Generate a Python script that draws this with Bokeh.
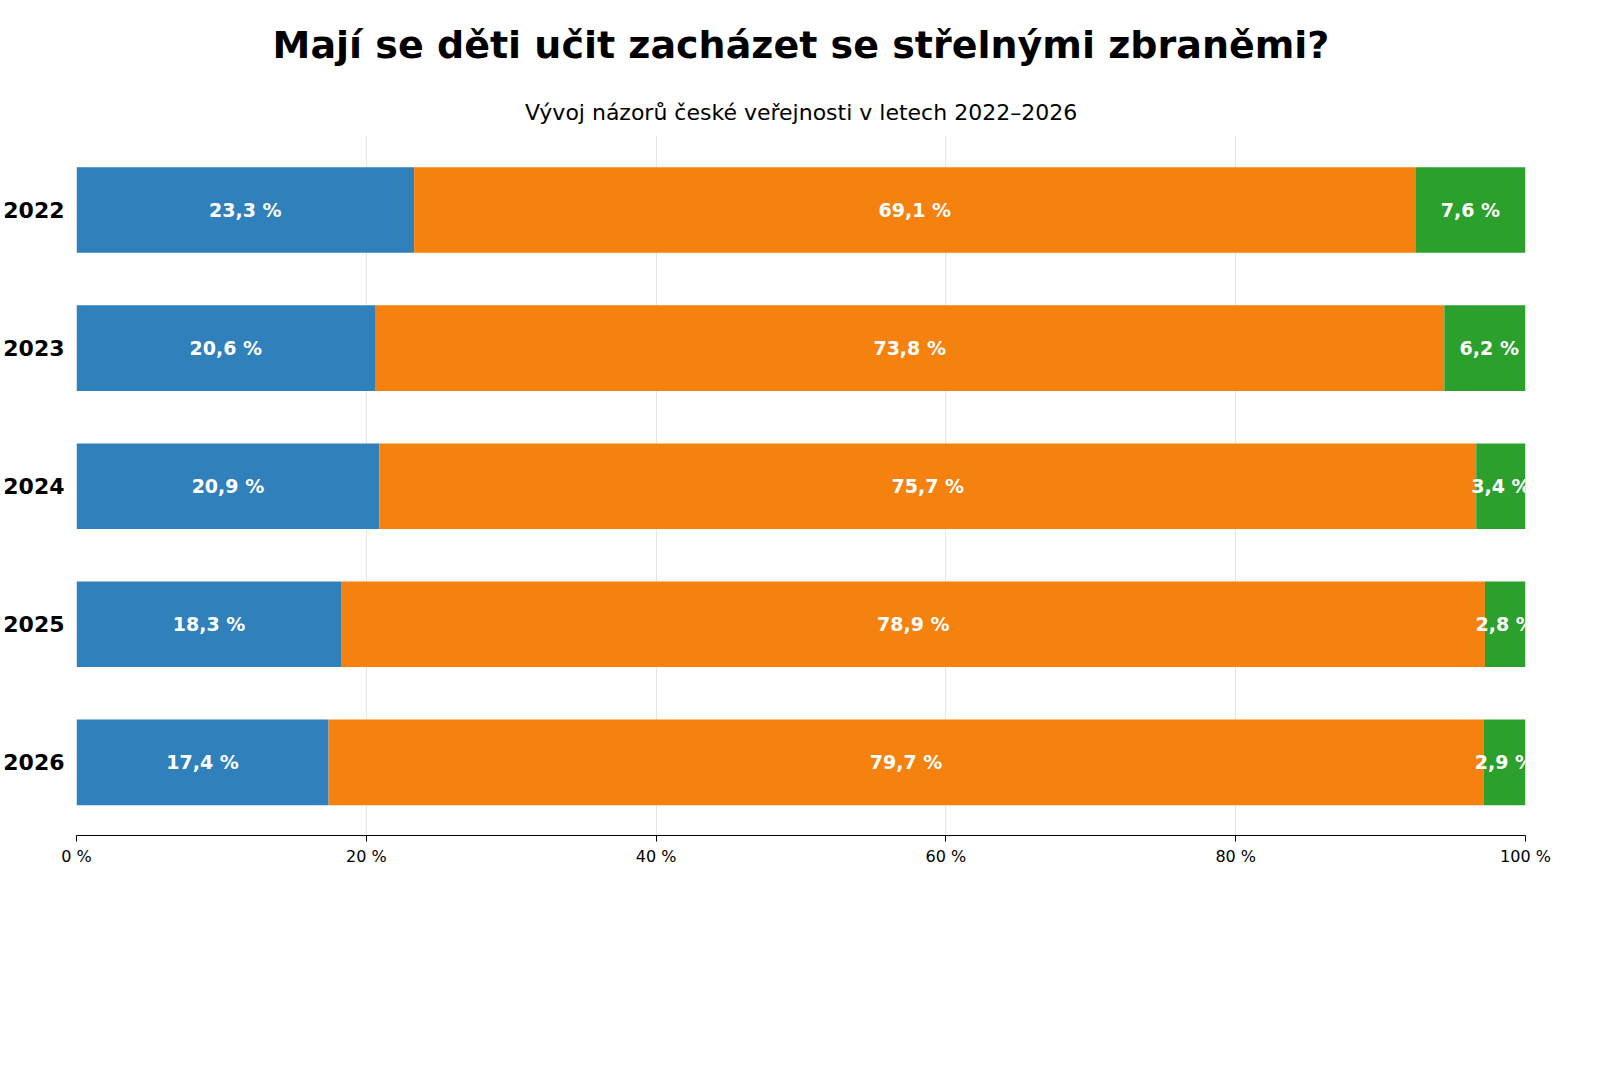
from bokeh.plotting import figure
from bokeh.models import ColumnDataSource, Range1d, Title, Legend, LabelSet, FixedTicker
from bokeh.core.properties import value
from bokeh.embed import file_html
from bokeh.resources import INLINE

years = ["2022", "2023", "2024", "2025", "2026"]
ano = [23.3, 20.6, 20.9, 18.3, 17.4]
ne = [69.1, 73.8, 75.7, 78.9, 79.7]
nevim = [7.6, 6.2, 3.4, 2.8, 2.9]
series = ["Ano + spíše ano", "Ne + spíše ne", "Nevím"]
colors = ["#3080bc", "#f5820f", "#2ca02c"]

ypos = list(range(len(years)))
src = ColumnDataSource(dict(y=ypos, ano=ano, ne=ne, nevim=nevim))

p = figure(frame_width=1449, frame_height=700, output_backend="svg", toolbar_location=None,
           x_range=Range1d(0, 100), y_range=Range1d(4.53, -0.54),
           min_border_left=73, min_border_right=50, min_border_top=0, min_border_bottom=0)
p.outline_line_color = None
p.background_fill_color = "white"

rs = p.hbar_stack(["ano", "ne", "nevim"], y="y", height=0.62, color=colors, source=src,
                  line_color=None)

lx, ly, lt = [], [], []
for i in range(len(years)):
    c = 0
    for v in [ano[i], ne[i], nevim[i]]:
        lx.append(c + v / 2); ly.append(i); lt.append(f"{v:.1f} %".replace(".", ","))
        c += v
lsrc = ColumnDataSource(dict(x=lx, y=ly, t=lt))
p.add_layout(LabelSet(x="x", y="y", text="t", source=lsrc, text_align="center",
                      text_baseline="middle", text_color="white", text_font_style="bold",
                      text_font_size="19px", text_font=value("DejaVu Sans")))

p.yaxis.ticker = FixedTicker(ticks=ypos)
p.yaxis.major_label_overrides = {i: y for i, y in enumerate(years)}
p.yaxis.axis_line_color = None
p.yaxis.major_tick_line_color = None
p.yaxis.minor_tick_line_color = None
p.yaxis.major_label_text_font_size = "22px"
p.yaxis.major_label_text_font_style = "bold"
p.yaxis.major_label_text_font = "DejaVu Sans"
p.yaxis.major_label_text_color = "black"
p.yaxis.major_label_standoff = 6

p.xaxis.ticker = FixedTicker(ticks=[0, 20, 40, 60, 80, 100])
p.xaxis.major_label_overrides = {v: f"{v} %" for v in [0, 20, 40, 60, 80, 100]}
p.xaxis.minor_tick_line_color = None
p.xaxis.major_tick_out = 6
p.xaxis.major_tick_in = 0
p.xaxis.axis_line_color = "black"
p.xaxis.major_label_text_font_size = "16px"
p.xaxis.major_label_text_font = "DejaVu Sans"
p.xaxis.major_label_text_color = "black"

p.ygrid.grid_line_color = None
p.xgrid.ticker = FixedTicker(ticks=[0, 20, 40, 60, 80, 100])
p.xgrid.grid_line_color = "#e6e6e6"

legend = Legend(items=[(s, [r]) for s, r in zip(series, rs)], orientation="horizontal",
                location="center", border_line_color=None, label_text_font_size="18px",
                label_text_font="DejaVu Sans", label_text_color="black",
                glyph_width=36, glyph_height=14, spacing=40, margin=0, padding=0)
legend_title_gap = Title(text=" ", text_font_size="40px")
p.add_layout(legend_title_gap, "below")
p.add_layout(legend, "below")

p.add_layout(Title(text="Zdroj: SANEP – Bezpečnostní situace v ČR, reakce na krizové situace, branná výchova",
                   align="left", text_font_size="15px", text_font_style="normal",
                   text_font="DejaVu Sans", text_color="black", standoff=0), "below")
p.add_layout(Title(text="Souhrn odpovědí z jednotlivých ročních šetření 2022–2026 pro Sdružení sportovních svazů ČR.",
                   align="left", text_font_size="15px", text_font_style="normal",
                   text_font="DejaVu Sans", text_color="black", standoff=0), "below")

p.add_layout(Title(text="Vývoj názorů české veřejnosti v letech 2022–2026", align="center",
                   text_font_size="22px", text_font_style="normal", text_font="DejaVu Sans",
                   text_color="black", standoff=22), "above")
p.add_layout(Title(text="Mají se děti učit zacházet se střelnými zbraněmi?", align="center",
                   text_font_size="38px", text_font_style="bold", text_font="DejaVu Sans",
                   text_color="black", standoff=40), "above")

open("out.html", "w").write(file_html(p, INLINE))
